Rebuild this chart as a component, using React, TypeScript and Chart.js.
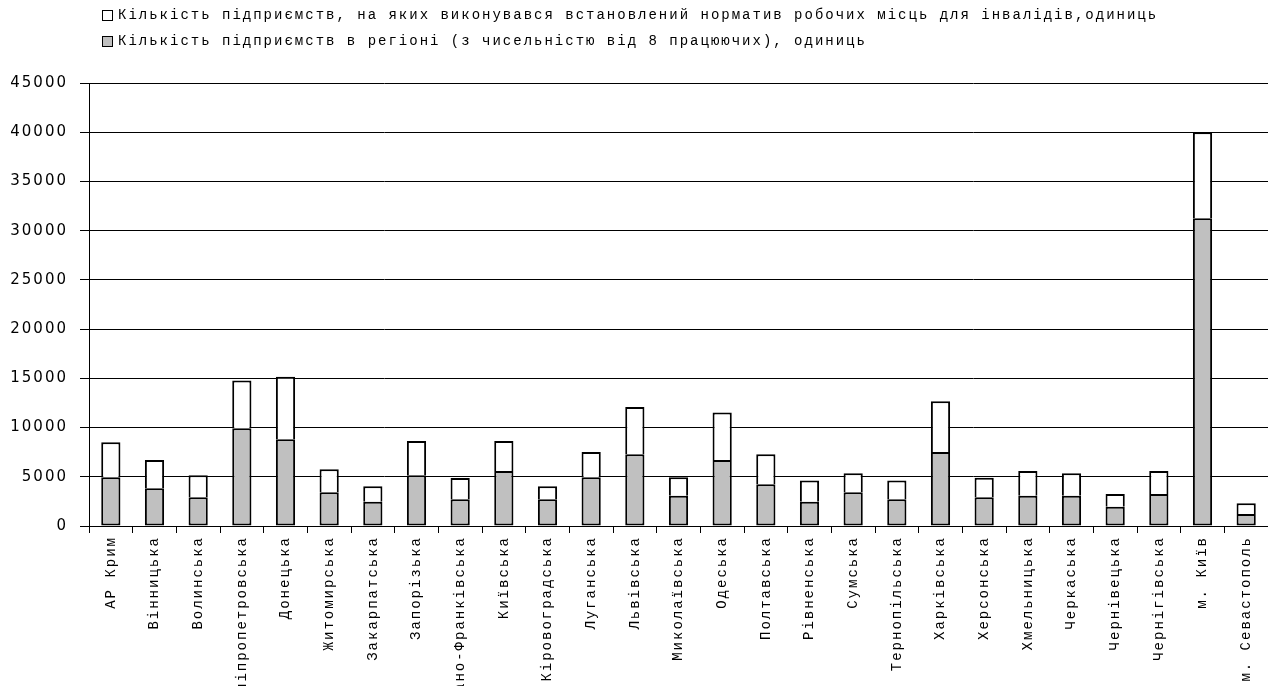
import React, { useEffect, useRef } from "react";
import { Chart, registerables } from "chart.js";

Chart.register(...registerables);

const regions: string[] = [
  "АР Крим",
  "Вінницька",
  "Волинська",
  "Дніпропетровська",
  "Донецька",
  "Житомирська",
  "Закарпатська",
  "Запорізька",
  "Івано-Франківська",
  "Київська",
  "Кіровоградська",
  "Луганська",
  "Львівська",
  "Миколаївська",
  "Одеська",
  "Полтавська",
  "Рівненська",
  "Сумська",
  "Тернопільська",
  "Харківська",
  "Херсонська",
  "Хмельницька",
  "Черкаська",
  "Чернівецька",
  "Чернігівська",
  "м. Київ",
  "м. Севастополь",
];

// gray (lower) segment
const enterprisesInRegion: number[] = [
  4950, 3830, 2920, 9930, 8810, 3420, 2470, 5150, 2710, 5590, 2710, 4950, 7280,
  3080, 6710, 4235, 2470, 3420, 2710, 7520, 2920, 3080, 3080, 1960, 3250, 31270, 1220,
];

// white (upper) segment
const enterprisesWithQuota: number[] = [
  3550, 2870, 2230, 4840, 6340, 2340, 1560, 3490, 2170, 3050, 1320, 2570, 4810,
  1870, 4810, 3045, 2140, 1930, 1900, 5150, 1990, 2510, 2270, 1290, 2340, 8730, 1080,
];

const labelQuota =
  "Кількість підприємств, на яких виконувався встановлений норматив робочих місць для інвалідів,одиниць";
const labelRegion =
  "Кількість підприємств в регіоні (з чисельністю від 8 працюючих), одиниць";

const yTicks: number[] = [0, 5000, 10000, 15000, 20000, 25000, 30000, 35000, 40000, 45000];

const spacingPlugin = {
  id: "letterSpacing",
  beforeDraw(chart: any) {
    (chart.ctx as any).letterSpacing = "2px";
  },
  afterDraw(chart: any) {
    (chart.ctx as any).letterSpacing = "0px";
  },
};

const legendPlugin = {
  id: "customLegend",
  afterDraw(chart: any) {
    const ctx = chart.ctx as CanvasRenderingContext2D;
    const ds = chart.data.datasets.slice().reverse();
    ctx.save();
    (ctx as any).letterSpacing = "2px";
    ctx.font = '14px "Liberation Mono"';
    ctx.textBaseline = "middle";
    ctx.textAlign = "left";
    ds.forEach((d: any, i: number) => {
      const cy = 15.5 + i * 26;
      ctx.fillStyle = d.backgroundColor;
      ctx.fillRect(102.5, cy - 5, 10, 10);
      ctx.strokeStyle = "#000";
      ctx.lineWidth = 1;
      ctx.strokeRect(102.5, cy - 5, 10, 10);
      ctx.fillStyle = "#000";
      ctx.fillText(d.label, 118, cy);
    });
    ctx.restore();
  },
};

export default function App() {
  const ref = useRef<HTMLCanvasElement | null>(null);

  useEffect(() => {
    if (!ref.current) return;
    const chart = new Chart(ref.current, {
      type: "bar",
      data: {
        labels: regions,
        datasets: [
          {
            label: labelRegion,
            data: enterprisesInRegion,
            backgroundColor: "#c0c0c0",
            borderColor: "#000",
            borderWidth: 2,
            borderSkipped: false,
            barPercentage: 0.44,
            categoryPercentage: 1,
          },
          {
            label: labelQuota,
            data: enterprisesWithQuota,
            backgroundColor: "#ffffff",
            borderColor: "#000",
            borderWidth: 2,
            borderSkipped: "start",
            barPercentage: 0.44,
            categoryPercentage: 1,
          },
        ],
      },
      options: {
        responsive: false,
        animation: false,
        layout: { padding: { top: 83, left: 0, right: 0, bottom: 0 } },
        plugins: {
          legend: { display: false },
          tooltip: { enabled: false },
        },
        scales: {
          x: {
            stacked: true,
            grid: {
              drawOnChartArea: false,
              drawTicks: true,
              tickLength: 7,
              color: "#000",
              offset: true,
            },
            border: { color: "#000", width: 1 },
            ticks: {
              autoSkip: false,
              minRotation: 90,
              maxRotation: 90,
              color: "#000",
              padding: 3,
              font: { family: "Liberation Mono", size: 14 },
            },
            afterFit: (s: any) => {
              s.height = 160;
              s.paddingLeft = 0;
              s.paddingRight = 0;
            },
          },
          y: {
            stacked: true,
            min: 0,
            max: 45000,
            afterBuildTicks: (s: any) => {
              s.ticks = yTicks.map((v) => ({ value: v }));
            },
            ticks: {
              color: "#000",
              padding: 12,
              font: { family: "DejaVu Sans", size: 15 },
              callback: (v: any) => String(v),
            },
            grid: { color: "#000", lineWidth: 1, tickLength: 9 },
            border: { color: "#000", width: 1 },
            afterFit: (s: any) => {
              s.width = 89;
              s.paddingTop = 0;
              s.paddingBottom = 0;
            },
          },
        },
      },
      plugins: [spacingPlugin, legendPlugin],
    });
    return () => chart.destroy();
  }, []);

  return (
    <div style={{ position: "absolute", left: 0, top: 0, width: 1268, height: 686, background: "#fff" }}>
      <canvas ref={ref} width={1268} height={686} style={{ display: "block" }} />
    </div>
  );
}
